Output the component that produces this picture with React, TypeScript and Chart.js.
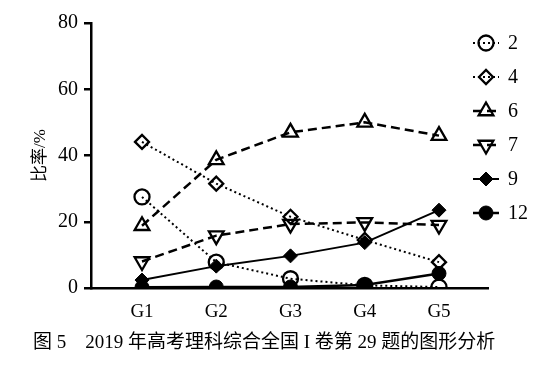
import React, { useEffect, useRef } from "react";
import { Chart, registerables } from "chart.js";

Chart.register(...registerables);

const categories = ["G1", "G2", "G3", "G4", "G5"];
const seriesNames = ["2", "4", "6", "7", "9", "12"];
const s2 = [27.5, 7.8, 2.8, 0.8, 0.3];
const s4 = [44.1, 31.5, 21.5, 14.5, 7.8];
const s6 = [18.8, 38.7, 47.0, 50.0, 46.0];
const s7 = [8.0, 15.8, 19.3, 19.8, 19.0];
const s9 = [2.4, 6.6, 9.7, 13.7, 23.5];
const s12 = [0.2, 0.3, 0.3, 0.9, 4.4];
const yTicks = [0, 20, 40, 60, 80];
const caption = "图 5\u30002019 年高考理科综合全国 I 卷第 29 题的图形分析";

const SERIF = '"Liberation Serif", "Times New Roman", "Noto Sans CJK SC", serif';

const toPts = (arr: number[]) => arr.map((v, i) => ({ x: i, y: v }));

function drawMarker(ctx: CanvasRenderingContext2D, style: string, r: number, rotDeg: number, x: number, y: number, fill: string) {
  ctx.beginPath();
  if (style === "circle") {
    ctx.arc(x, y, r, 0, Math.PI * 2);
  } else if (style === "rectRot") {
    ctx.moveTo(x - r, y);
    ctx.lineTo(x, y - r);
    ctx.lineTo(x + r, y);
    ctx.lineTo(x, y + r);
    ctx.closePath();
  } else if (style === "triangle") {
    const rad = (rotDeg * Math.PI) / 180;
    for (let k = 0; k < 3; k++) {
      const a = rad + (k * 2 * Math.PI) / 3;
      const px = x + Math.sin(a) * r;
      const py = y - Math.cos(a) * r;
      if (k === 0) ctx.moveTo(px, py);
      else ctx.lineTo(px, py);
    }
    ctx.closePath();
  }
  if (fill && fill !== "rgba(0,0,0,0)") {
    ctx.fillStyle = fill;
    ctx.fill();
  }
  ctx.stroke();
}

const legendPlugin = {
  id: "customLegend",
  afterDraw(chart: any) {
    const ctx = chart.ctx;
    const x0 = 473;
    const x1 = 499;
    const cx = 486;
    const tx = 508;
    const startY = 43;
    const step = 34;
    chart.data.datasets.forEach((ds: any, i: number) => {
      const y = startY + i * step;
      ctx.save();
      ctx.strokeStyle = "#000";
      ctx.lineWidth = ds.borderWidth;
      ctx.setLineDash(ds.borderDash || []);
      ctx.beginPath();
      ctx.moveTo(x0, y);
      ctx.lineTo(x1, y);
      ctx.stroke();
      ctx.setLineDash([]);
      ctx.strokeStyle = "#000";
      ctx.lineWidth = ds.pointBorderWidth;
      drawMarker(ctx, ds.pointStyle, ds.pointRadius, ds.pointRotation || 0, cx, y, ds.pointBackgroundColor);
      ctx.fillStyle = "#000";
      ctx.font = "20px " + SERIF;
      ctx.textAlign = "left";
      ctx.textBaseline = "middle";
      ctx.fillText(ds.label, tx, y + 1);
      ctx.restore();
    });
  },
};

export default function App() {
  const ref = useRef<HTMLCanvasElement | null>(null);

  useEffect(() => {
    if (!ref.current) return;
    const hollow = "rgba(0,0,0,0)";
    const base = {
      borderColor: "#000",
      pointBorderColor: "#000",
      showLine: true,
      tension: 0,
    };
    const chart = new Chart(ref.current, {
      type: "scatter",
      data: {
        datasets: [
          { ...base, label: seriesNames[0], data: toPts(s2), borderWidth: 2, borderDash: [2, 3], pointStyle: "circle", pointRadius: 7.5, pointBorderWidth: 2.3, pointBackgroundColor: hollow, backgroundColor: hollow },
          { ...base, label: seriesNames[1], data: toPts(s4), borderWidth: 2, borderDash: [2, 3], pointStyle: "rectRot", pointRadius: 7, pointBorderWidth: 2.3, pointBackgroundColor: hollow, backgroundColor: hollow },
          { ...base, label: seriesNames[2], data: toPts(s6), borderWidth: 2.5, borderDash: [9, 5], pointStyle: "triangle", pointRadius: 8.5, pointBorderWidth: 2.3, pointBackgroundColor: hollow, backgroundColor: hollow },
          { ...base, label: seriesNames[3], data: toPts(s7), borderWidth: 2.5, borderDash: [9, 5], pointStyle: "triangle", pointRotation: 180, pointRadius: 8.5, pointBorderWidth: 2.3, pointBackgroundColor: hollow, backgroundColor: hollow },
          { ...base, label: seriesNames[4], data: toPts(s9), borderWidth: 2, borderDash: [], pointStyle: "rectRot", pointRadius: 7, pointBorderWidth: 1, pointBackgroundColor: "#000", backgroundColor: "#000" },
          { ...base, label: seriesNames[5], data: toPts(s12), borderWidth: 2.5, borderDash: [], pointStyle: "circle", pointRadius: 7, pointBorderWidth: 1, pointBackgroundColor: "#000", backgroundColor: "#000" },
        ] as any,
      },
      options: {
        animation: false,
        responsive: false,
        maintainAspectRatio: false,
        layout: { padding: { left: 0, top: 23, right: 63, bottom: 0 } },
        plugins: { legend: { display: false }, tooltip: { enabled: false }, title: { display: false } },
        scales: {
          x: {
            type: "linear",
            min: -0.687,
            max: 4.66,
            afterBuildTicks: (scale: any) => {
              scale.ticks = categories.map((_, i) => ({ value: i }));
            },
            afterFit: (scale: any) => {
              scale.height = 92;
            },
            grid: { display: false, drawTicks: false },
            border: { display: true, color: "#000", width: 2.5 },
            ticks: {
              color: "#000",
              padding: 13,
              font: { family: SERIF, size: 19 },
              maxRotation: 0,
              autoSkip: false,
              callback: (v: any) => categories[Math.round(Number(v))] ?? "",
            },
          },
          y: {
            type: "linear",
            min: 0,
            max: 80,
            afterBuildTicks: (scale: any) => {
              scale.ticks = yTicks.map((v) => ({ value: v }));
            },
            afterFit: (scale: any) => {
              scale.width = 91;
            },
            grid: { display: true, drawOnChartArea: false, drawTicks: true, tickLength: 7, color: "#000", lineWidth: 2.5 },
            border: { display: true, color: "#000", width: 2.5 },
            ticks: {
              color: "#000",
              padding: 6,
              font: { family: SERIF, size: 20 },
            },
            title: {
              display: true,
              text: "比率/%",
              color: "#000",
              font: { family: SERIF, size: 17 },
              padding: { top: 30, bottom: 0 },
            },
          },
        },
      } as any,
      plugins: [legendPlugin],
    });
    return () => chart.destroy();
  }, []);

  return (
    <div style={{ position: "fixed", left: 0, top: 0, width: 551, height: 380, background: "#fff" }}>
      <canvas ref={ref} width={551} height={380} style={{ position: "absolute", left: 0, top: 0, width: 551, height: 380 }} />
      <div
        style={{
          position: "absolute",
          left: 33,
          top: 331,
          whiteSpace: "pre",
          fontFamily: SERIF,
          fontSize: 19,
          lineHeight: "22px",
          color: "#000",
        }}
      >
        {caption}
      </div>
    </div>
  );
}
